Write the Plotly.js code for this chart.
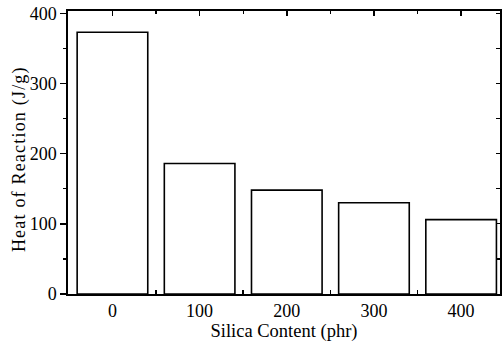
<!DOCTYPE html>
<html>
<head>
<meta charset="utf-8">
<script src="https://cdn.plot.ly/plotly-3.0.1.min.js"></script>
<style>
  html, body { margin: 0; padding: 0; background: #fff; }
  #chart { width: 504px; height: 342px; }
  /* the vertical title is set a little wider than the face's default spacing */
  #chart .annotation-text { letter-spacing: 1.2px; }
</style>
</head>
<body>
<div id="chart"></div>
<script>
// Silica loading (phr) and measured heat of reaction (J/g)
const silicaContent = ['0', '100', '200', '300', '400'];
const heatOfReaction = [373, 186, 148, 130, 106];
const yTickValues = [0, 100, 200, 300, 400];
const yTitle = 'Heat of Reaction (J/g)';
const xTitle = 'Silica Content (phr)';

const serif = 'Liberation Serif, Times New Roman, serif';
const ink = '#000';

const bars = {
  type: 'bar',
  x: silicaContent,
  y: heatOfReaction,
  width: 0.81,
  marker: { color: '#fff', line: { color: ink, width: 1.6 } },
  hoverinfo: 'x+y'
};

// empty traces so the top and right frame axes get drawn
const topFrame = { type: 'scatter', x: [], y: [], xaxis: 'x2', yaxis: 'y', hoverinfo: 'skip', showlegend: false };
const rightFrame = { type: 'scatter', x: [], y: [], xaxis: 'x', yaxis: 'y2', hoverinfo: 'skip', showlegend: false };

const xRange = [-0.51, 4.446];
const yRange = [0, 403.3];

const layout = {
  width: 504,
  height: 342,
  margin: { l: 68, r: 4, t: 11, b: 48 },
  paper_bgcolor: '#fff',
  plot_bgcolor: '#fff',
  showlegend: false,
  font: { family: serif, size: 18, color: ink },
  xaxis: {
    type: 'category',
    range: xRange,
    tickson: 'boundaries',
    ticks: 'inside',
    ticklen: 4,
    tickwidth: 1.5,
    tickcolor: ink,
    showline: true,
    linecolor: ink,
    linewidth: 1.6,
    showgrid: false,
    zeroline: false,
    tickfont: { family: serif, size: 18, color: ink },
    title: { text: xTitle, font: { family: serif, size: 18.5, color: ink }, standoff: 4 }
  },
  xaxis2: {
    type: 'linear',
    overlaying: 'x',
    side: 'top',
    anchor: 'y',
    range: xRange,
    tickmode: 'linear',
    tick0: 0,
    dtick: 1,
    ticks: 'inside',
    ticklen: 5,
    tickwidth: 1.5,
    tickcolor: ink,
    minor: { tickmode: 'linear', tick0: 0.5, dtick: 1, ticks: 'inside', ticklen: 3, tickwidth: 1.2, tickcolor: ink },
    showticklabels: false,
    showline: true,
    linecolor: ink,
    linewidth: 1.6,
    showgrid: false,
    zeroline: false
  },
  yaxis: {
    range: yRange,
    tickmode: 'array',
    tickvals: yTickValues,
    ticks: 'outside',
    ticklen: 6,
    tickwidth: 1.5,
    tickcolor: ink,
    minor: { tickmode: 'linear', tick0: 50, dtick: 100, ticks: 'outside', ticklen: 3, tickwidth: 1.2, tickcolor: ink },
    showline: true,
    linecolor: ink,
    linewidth: 1.6,
    showgrid: false,
    zeroline: false,
    tickfont: { family: serif, size: 18, color: ink }
  },
  yaxis2: {
    type: 'linear',
    overlaying: 'y',
    side: 'right',
    anchor: 'x',
    range: yRange,
    tickmode: 'linear',
    tick0: 0,
    dtick: 50,
    ticks: 'inside',
    ticklen: 4,
    tickwidth: 1.3,
    tickcolor: ink,
    showticklabels: false,
    showline: true,
    linecolor: ink,
    linewidth: 1.6,
    showgrid: false,
    zeroline: false
  },
  // vertical axis title, placed beside the tick labels
  annotations: [{
    text: yTitle,
    textangle: -90,
    xref: 'paper', yref: 'paper',
    x: -0.111, y: 0.474,
    xanchor: 'center', yanchor: 'middle',
    showarrow: false,
    font: { family: serif, size: 18, color: ink }
  }]
};

Plotly.newPlot('chart', [bars, topFrame, rightFrame], layout, { staticPlot: true, displayModeBar: false });
</script>
</body>
</html>
